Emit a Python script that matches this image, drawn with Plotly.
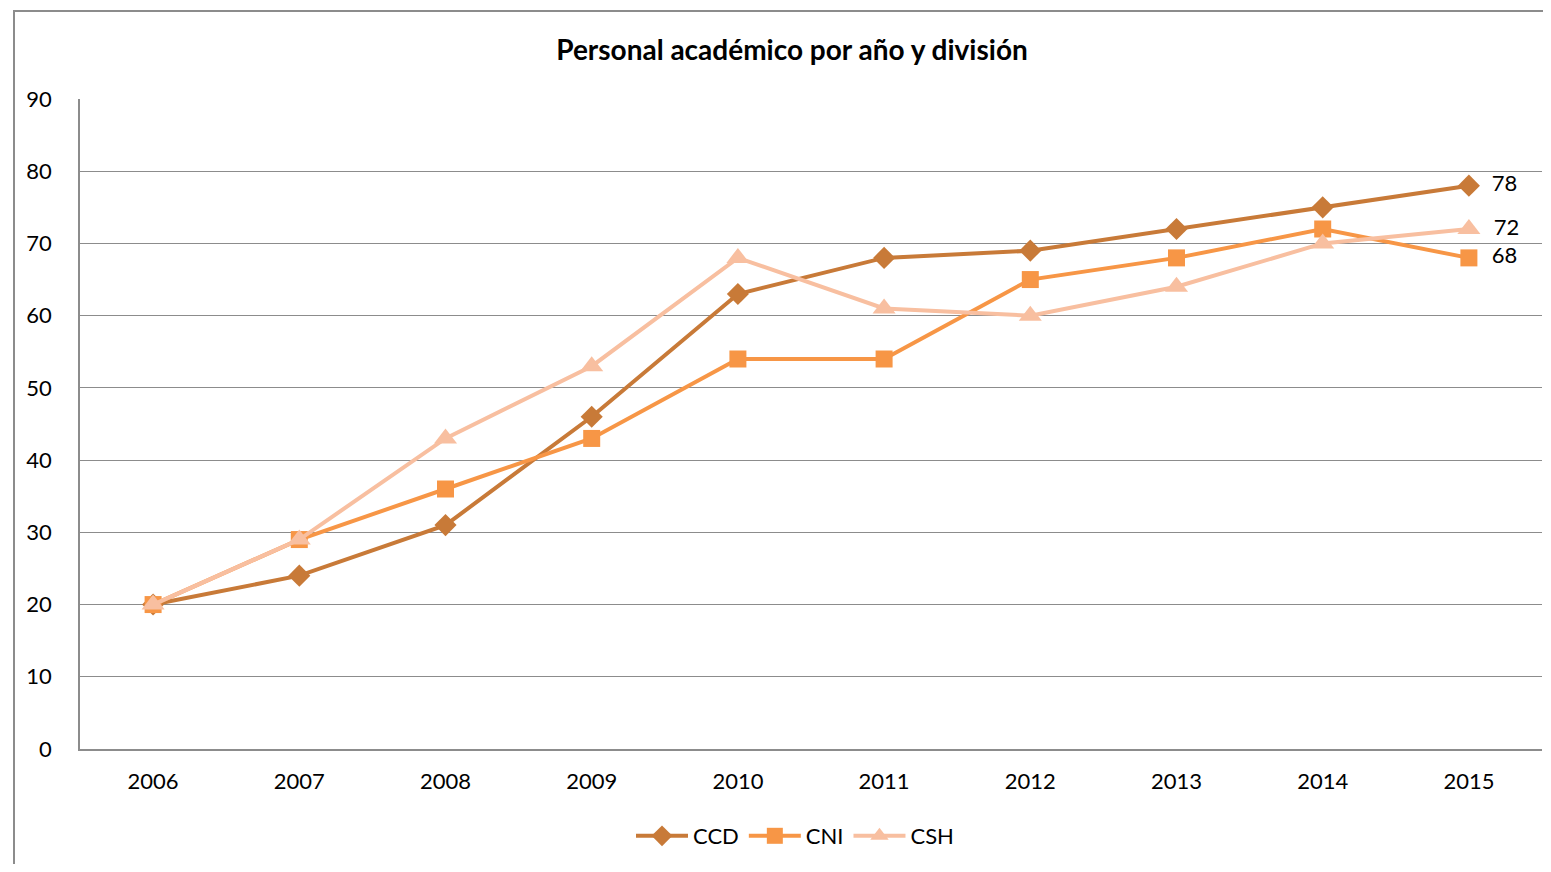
import plotly.graph_objects as go

years = ["2006", "2007", "2008", "2009", "2010", "2011", "2012", "2013", "2014", "2015"]
ccd = [20, 24, 31, 46, 63, 68, 69, 72, 75, 78]
cni = [20, 29, 36, 43, 54, 54, 65, 68, 72, 68]
csh = [20, 29, 43, 53, 68, 61, 60, 64, 70, 72]

# page body has an 8px margin, so the figure is offset by 8px
OFF = 8
W, H = 1551 - 2 * OFF, 872 - 2 * OFF
L, T = 80 - OFF, 99 - OFF
R = W - (1542 - OFF)
B = H - (749 - OFF)

FONT = "Lato, Calibri, sans-serif"

fig = go.Figure()
series = [
    ("CCD", ccd, "#C87A38", "diamond", 17),
    ("CNI", cni, "#F79646", "square", 17),
    ("CSH", csh, "#F8BFA0", "triangle-up", 20),
]
for name, vals, col, sym, sz in series:
    fig.add_trace(go.Scatter(
        x=years, y=vals, name=name, mode="lines+markers+text",
        line=dict(color=col, width=4),
        marker=dict(symbol=sym, size=sz, color=col),
        text=[""] * (len(vals) - 1) + ["  " + str(vals[-1])],
        textposition="middle right",
        textfont=dict(size=22, color="#000000", family=FONT),
        cliponaxis=False,
    ))

pw = W - L - R
ph = H - T - B
fig.add_shape(type="rect", xref="paper", yref="paper",
              x0=(14 - OFF - L) / pw, x1=(W + 30 - L) / pw,
              y0=-(H + 30 - T - ph) / ph, y1=(T - (11 - OFF)) / ph + 1,
              line=dict(color="#8c8c8c", width=2), fillcolor="rgba(0,0,0,0)", layer="below")

fig.update_layout(
    width=W, height=H,
    margin=dict(l=L, r=R, t=T, b=B, pad=0),
    paper_bgcolor="white", plot_bgcolor="white",
    font=dict(family=FONT, size=22, color="#000000"),
    title=dict(text="<b>Personal académico por año y división</b>", x=(792 - OFF) / W, xanchor="center",
               y=1 - (50 - OFF) / H, yanchor="middle", font=dict(size=28)),
    xaxis=dict(type="category", range=[-0.5, 9.5], showgrid=False,
               showline=True, linecolor="#8c8c8c", linewidth=1.5,
               ticks="", tickfont=dict(size=22), ticklabelstandoff=12),
    yaxis=dict(range=[0, 90], dtick=10, showgrid=True, gridcolor="#8c8c8c", gridwidth=1.2,
               showline=True, linecolor="#8c8c8c", linewidth=1.5, ticks="",
               zeroline=False, tickfont=dict(size=22), ticklabelstandoff=22),
    legend=dict(orientation="h", x=(795 - 80) / (1542 - 80), xanchor="center",
                y=-(836 - 749) / ph, yanchor="middle", itemwidth=52,
                font=dict(size=22), tracegroupgap=0),
    showlegend=True,
)

fig.write_html("out.html")
